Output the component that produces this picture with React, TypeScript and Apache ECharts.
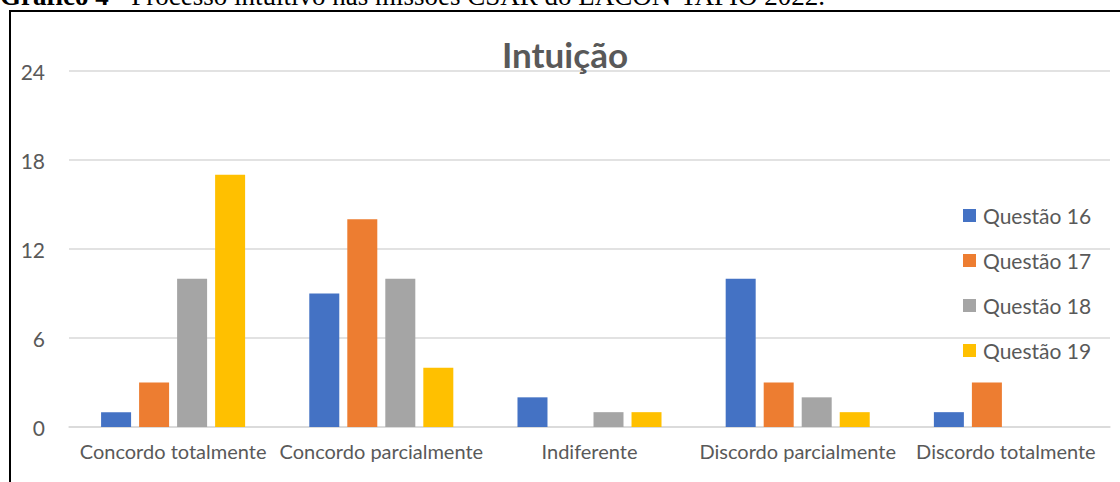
import React, { useEffect, useRef } from "react";
import * as echarts from "echarts";

const categories = [
  "Concordo totalmente",
  "Concordo parcialmente",
  "Indiferente",
  "Discordo parcialmente",
  "Discordo totalmente",
];
const seriesNames = ["Questão 16", "Questão 17", "Questão 18", "Questão 19"];
const q16 = [1, 9, 2, 10, 1];
const q17 = [3, 14, 0, 3, 3];
const q18 = [10, 10, 1, 2, 0];
const q19 = [17, 4, 1, 1, 0];
const colors = ["#4472C4", "#ED7D31", "#A5A5A5", "#FFC000"];
const yTicks = [0, 6, 12, 18, 24];

const FONT = "Lato";

export default function App() {
  const ref = useRef<HTMLDivElement>(null);
  useEffect(() => {
    if (!ref.current) return;
    const chart = echarts.init(ref.current, null, { renderer: "svg" });
    const data = [q16, q17, q18, q19];
    chart.setOption({
      animation: false,
      backgroundColor: "#fff",
      title: {
        text: "Intuição",
        left: 560,
        textAlign: "center",
        top: 31,
        textStyle: { fontFamily: FONT, fontWeight: "bold", fontSize: 35, color: "#595959" },
      },
      legend: {
        orient: "vertical",
        left: 958,
        top: 200,
        itemWidth: 13,
        itemHeight: 13,
        itemGap: 24,
        icon: "rect",
        textStyle: { fontFamily: FONT, fontSize: 21, color: "#595959", padding: [0, 0, 0, 2] },
        data: seriesNames,
      },
      grid: { left: 69, right: 10, top: 71, bottom: 55, containLabel: false },
      xAxis: {
        type: "category",
        data: categories,
        axisLine: { show: true, lineStyle: { color: "#D9D9D9", width: 1.5 } },
        axisTick: { show: false },
        axisLabel: { fontFamily: FONT, fontSize: 20, color: "#595959", margin: 14, interval: 0 },
      },
      yAxis: {
        type: "value",
        min: yTicks[0],
        max: yTicks[yTicks.length - 1],
        interval: 6,
        axisLine: { show: false },
        axisTick: { show: false },
        splitLine: { lineStyle: { color: "#D9D9D9", width: 1.5 } },
        axisLabel: { fontFamily: FONT, fontSize: 21, color: "#595959", margin: 24 },
      },
      graphic: [
        {
          type: "text",
          left: 0,
          top: -18,
          style: {
            text: "{b|Gráfico 4} - Processo intuitivo nas missões CSAR do LACON-TAPIO 2022.",
            font: "27px 'Liberation Serif'",
            fill: "#000",
            rich: {
              b: { fontFamily: "Liberation Serif", fontWeight: "bold", fontSize: 27, fill: "#000" },
            },
          },
        },
        { type: "line", shape: { x1: 9, y1: 11, x2: 1120, y2: 11 }, style: { stroke: "#000", lineWidth: 2 } },
        { type: "line", shape: { x1: 10, y1: 10, x2: 10, y2: 482 }, style: { stroke: "#000", lineWidth: 2 } },
      ],
      series: seriesNames.map((name, i) => ({
        name,
        type: "bar",
        data: data[i],
        barWidth: 30,
        barGap: "26.7%",
        itemStyle: { color: colors[i] },
      })),
    });
    return () => chart.dispose();
  }, []);
  return (
    <div style={{ position: "absolute", left: 0, top: 0, width: 1120, height: 482, overflow: "hidden", background: "#fff" }}>
      <div ref={ref} style={{ width: 1120, height: 482 }} />
    </div>
  );
}
